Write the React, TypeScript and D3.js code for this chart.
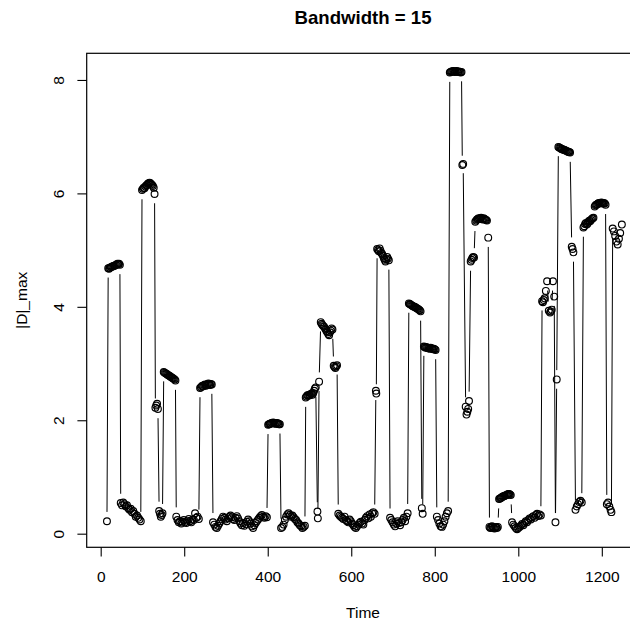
import * as d3 from 'd3'
import { useEffect, useRef } from 'react'

const time = [
  15,
  18, 20, 22, 24, 26, 28, 30, 32, 34, 36, 38, 40, 42, 44, 46,
  48, 51, 54, 57, 60, 63, 66, 69, 72, 75, 78, 81, 84, 87, 90, 93, 96,
  99, 101, 103, 105, 107, 109, 111, 113, 115, 117, 119, 121, 123, 125, 127, 129,
  131, 133, 135, 137,
  140, 142, 144, 146, 148,
  151, 153, 155, 157, 159, 161, 163, 165, 167, 169, 171, 173, 175, 177, 179,
  181, 184, 187, 190, 193, 196, 199, 202, 205, 208, 211, 214, 217, 220, 223, 226, 229, 232, 235,
  238, 240, 242, 244, 246, 248, 250, 252, 254, 256, 258, 260, 262, 264, 266,
  269, 272, 275, 278, 281, 284, 287, 290, 293, 296,
  299, 302, 305, 308, 311, 314, 317, 320, 323, 326,
  329, 332, 335, 338, 341, 344, 347, 350, 353, 356,
  359, 362, 365, 368, 371, 374, 377, 380, 383, 386,
  389, 392, 395, 398,
  401, 403, 405, 407, 409, 411, 413, 415, 417, 419, 421, 423, 425, 427, 429,
  432, 435, 438, 441, 444, 447, 450, 453, 456, 459, 462, 465, 468, 471, 474, 477, 480, 483, 486, 489,
  491, 493, 495, 497, 499, 501, 503, 505, 507, 509, 511, 513, 515,
  519, 520, 523,
  527, 529, 531, 533, 535, 537, 539, 541, 543, 545, 547, 549, 551, 553, 555,
  558, 560, 562, 564, 566,
  569, 572, 575, 578, 581, 584, 587, 590, 593, 596,
  599, 602, 605, 608, 611, 614, 617, 620, 623, 626,
  629, 632, 635, 638, 641, 644, 647, 650, 653, 656,
  659, 660,
  662, 664, 666, 668, 670, 672, 674, 676, 678, 680, 682, 684, 686, 688, 690,
  693, 696, 699, 702, 705, 708, 711, 714, 717, 720, 723, 726, 729, 732, 735,
  738, 740, 742, 744, 746, 748, 750, 752, 754, 756, 758, 760, 762, 764, 766,
  769, 771,
  774, 776, 778, 780, 782, 784, 786, 788, 790, 792, 794, 796, 798, 800, 802,
  805, 808, 811, 814, 817, 820, 823, 826, 829, 832,
  836, 838, 840, 842, 844, 846, 848, 850, 852, 854, 856, 858, 860, 862, 864,
  866, 868,
  874, 876, 878, 880, 882,
  886, 888, 890, 892, 894,
  897, 899, 901, 903, 905, 907, 909, 911, 913, 915, 917, 919, 921, 923, 925,
  928,
  931, 933, 935, 937, 939, 941, 943, 945, 947, 949, 951,
  954, 956, 958, 960, 962, 964, 966, 968, 970, 972, 974, 976, 978, 980, 982,
  985, 988, 991, 994, 997, 1000, 1003, 1006, 1009, 1012,
  1015, 1018, 1021, 1024, 1027, 1030, 1033, 1036, 1039, 1042,
  1045, 1048, 1051, 1054,
  1057, 1059, 1061, 1063, 1066, 1069, 1073, 1076, 1078, 1080, 1083, 1086,
  1089, 1092,
  1096, 1098, 1100, 1102, 1104, 1106, 1108, 1110, 1112, 1114, 1116, 1118, 1120, 1122, 1124,
  1128, 1130, 1132,
  1137, 1140, 1143, 1146, 1149, 1152,
  1156, 1158, 1160, 1162, 1164, 1166, 1168, 1170, 1172, 1174, 1176, 1178, 1180,
  1183, 1185, 1187, 1189, 1191, 1193, 1195, 1197, 1199, 1201, 1203, 1205, 1207, 1209,
  1212, 1215, 1218, 1221, 1223,
  1226, 1229, 1232, 1235, 1238, 1241, 1244, 1248
]

const dmax = [
  0.22,
  4.68, 4.67, 4.69, 4.70, 4.70, 4.71, 4.72, 4.72, 4.73, 4.74, 4.74, 4.76, 4.75, 4.76, 4.74,
  0.54, 0.50, 0.55, 0.52, 0.48, 0.50, 0.45, 0.42, 0.44, 0.38, 0.40, 0.35, 0.30, 0.32, 0.28, 0.25, 0.22,
  6.06, 6.08, 6.10, 6.09, 6.12, 6.14, 6.15, 6.17, 6.18, 6.19, 6.18, 6.16, 6.15, 6.13, 6.10, 5.99,
  2.22, 2.26, 2.29, 2.20,
  0.40, 0.35, 0.30, 0.33, 0.36,
  2.85, 2.84, 2.83, 2.82, 2.81, 2.80, 2.79, 2.78, 2.77, 2.76, 2.75, 2.74, 2.73, 2.72, 2.70,
  0.30, 0.24, 0.20, 0.22, 0.18, 0.21, 0.24, 0.20, 0.19, 0.23, 0.26, 0.22, 0.20, 0.25, 0.24, 0.36, 0.28, 0.30, 0.26,
  2.57, 2.58, 2.60, 2.61, 2.60, 2.62, 2.63, 2.61, 2.62, 2.64, 2.65, 2.63, 2.62, 2.64, 2.63,
  0.20, 0.16, 0.12, 0.10, 0.14, 0.18, 0.22, 0.26, 0.30, 0.28,
  0.25, 0.22, 0.27, 0.30, 0.32, 0.29, 0.26, 0.24, 0.28, 0.31,
  0.27, 0.22, 0.18, 0.15, 0.19, 0.14, 0.17, 0.21, 0.25, 0.22,
  0.18, 0.13, 0.10, 0.15, 0.19, 0.22, 0.25, 0.28, 0.31, 0.33,
  0.30, 0.28, 0.31, 0.29,
  1.92, 1.93, 1.94, 1.94, 1.95, 1.95, 1.96, 1.95, 1.94, 1.95, 1.94, 1.95, 1.94, 1.93, 1.93,
  0.10, 0.12, 0.16, 0.24, 0.30, 0.34, 0.36, 0.33, 0.30, 0.32, 0.29, 0.26, 0.24, 0.20, 0.18, 0.15, 0.13, 0.10, 0.12, 0.14,
  2.40, 2.42, 2.44, 2.43, 2.45, 2.44, 2.46, 2.47, 2.45, 2.48, 2.52, 2.56, 2.58,
  0.39, 0.27, 2.68,
  3.73, 3.70, 3.68, 3.66, 3.65, 3.62, 3.60, 3.57, 3.55, 3.52, 3.50, 3.55, 3.58, 3.62, 3.60,
  2.96, 2.94, 2.92, 2.95, 2.97,
  0.35, 0.32, 0.30, 0.28, 0.26, 0.30, 0.24, 0.22, 0.20, 0.25,
  0.22, 0.18, 0.15, 0.12, 0.10, 0.13, 0.16, 0.19, 0.21, 0.18,
  0.16, 0.24, 0.28, 0.31, 0.27, 0.34, 0.30, 0.36, 0.38, 0.35,
  2.52, 2.47,
  5.02, 5.00, 4.98, 5.03, 4.99, 4.95, 4.93, 4.90, 4.86, 4.83, 4.80, 4.84, 4.88, 4.85, 4.82,
  0.28, 0.24, 0.20, 0.16, 0.13, 0.18, 0.22, 0.19, 0.15, 0.20, 0.24, 0.28, 0.22, 0.30, 0.36,
  4.06, 4.05, 4.04, 4.03, 4.02, 4.01, 4.00, 4.00, 3.99, 3.98, 3.97, 3.96, 3.95, 3.94, 3.92,
  0.45, 0.35,
  3.30, 3.29, 3.28, 3.29, 3.28, 3.27, 3.27, 3.26, 3.28, 3.27, 3.26, 3.25, 3.26, 3.25, 3.24,
  0.30, 0.24, 0.18, 0.13, 0.12, 0.16, 0.22, 0.30, 0.36, 0.40,
  8.13, 8.14, 8.15, 8.15, 8.16, 8.15, 8.14, 8.15, 8.16, 8.15, 8.14, 8.15, 8.14, 8.13, 8.14,
  6.50, 6.52,
  2.24, 2.10, 2.15, 2.20, 2.34,
  4.80, 4.83, 4.86, 4.88, 4.87,
  5.50, 5.52, 5.54, 5.55, 5.56, 5.55, 5.56, 5.57, 5.55, 5.54, 5.56, 5.55, 5.54, 5.53, 5.52,
  5.22,
  0.12, 0.10, 0.11, 0.13, 0.12, 0.10, 0.09, 0.11, 0.12, 0.10, 0.12,
  0.61, 0.62, 0.63, 0.64, 0.65, 0.66, 0.66, 0.67, 0.68, 0.68, 0.69, 0.70, 0.70, 0.69, 0.68,
  0.20, 0.16, 0.13, 0.10, 0.08, 0.10, 0.12, 0.14, 0.17, 0.15,
  0.19, 0.22, 0.20, 0.24, 0.27, 0.25, 0.29, 0.31, 0.28, 0.33,
  0.35, 0.31, 0.34, 0.32,
  4.10, 4.08, 4.12, 4.15, 4.28, 4.45, 3.93, 3.90, 3.92, 3.95, 4.45, 4.18,
  0.20, 2.72,
  6.82, 6.81, 6.80, 6.79, 6.78, 6.78, 6.77, 6.77, 6.76, 6.75, 6.75, 6.74, 6.73, 6.73, 6.72,
  5.06, 5.02, 4.96,
  0.42, 0.48, 0.52, 0.56, 0.58, 0.55,
  5.40, 5.42, 5.46, 5.48, 5.45, 5.47, 5.50, 5.52, 5.51, 5.53, 5.55, 5.56, 5.57,
  5.77, 5.79, 5.80, 5.81, 5.82, 5.83, 5.82, 5.83, 5.84, 5.83, 5.82, 5.83, 5.82, 5.80,
  0.52, 0.55, 0.48, 0.42, 0.38,
  5.38, 5.33, 5.25, 5.15, 5.10, 5.20, 5.30, 5.45
]

const xTicks = [0, 200, 400, 600, 800, 1000, 1200]
const yTicks = [0, 2, 4, 6, 8]

const W = 630
const H = 628
const box = { left: 86.7, right: 639.4, top: 53.3, bottom: 547.3 }
const font = '"Liberation Sans", Arial, Helvetica, sans-serif'
const fs = 15.5 // one text line is 1.2 * fs

export default function App() {
  const svgRef = useRef(null)

  useEffect(() => {
    const svg = d3.select(svgRef.current)
    svg.selectAll('*').remove()

    const x = d3.scaleLinear().domain([-33.5, 1290]).range([box.left, box.right])
    const y = d3.scaleLinear().domain([-0.24, 8.47]).range([box.bottom, box.top])

    const n = Math.min(time.length, dmax.length)
    const pts = time.slice(0, n).map((t, i) => [x(t), y(dmax[i])])

    // type = "b": segments with a gap around each point, short ones dropped
    const gap = 9.3
    const path = d3.path()
    for (let i = 1; i < pts.length; i++) {
      const [x0, y0] = pts[i - 1]
      const [x1, y1] = pts[i]
      const len = Math.hypot(x1 - x0, y1 - y0)
      if (len <= 2 * gap) continue
      const f = gap / len
      path.moveTo(x0 + f * (x1 - x0), y0 + f * (y1 - y0))
      path.lineTo(x1 - f * (x1 - x0), y1 - f * (y1 - y0))
    }
    svg.append('path')
       .attr('d', path.toString())
       .attr('fill', 'none')
       .attr('stroke', '#000')
       .attr('stroke-width', 1)

    svg.append('g')
       .selectAll('circle')
       .data(pts)
       .join('circle')
       .attr('cx', d => d[0])
       .attr('cy', d => d[1])
       .attr('r', 3.4)
       .attr('fill', 'none')
       .attr('stroke', '#000')
       .attr('stroke-width', 1.15)

    svg.append('rect')
       .attr('x', box.left)
       .attr('y', box.top)
       .attr('width', box.right - box.left)
       .attr('height', box.bottom - box.top)
       .attr('fill', 'none')
       .attr('stroke', '#000')
       .attr('stroke-width', 1.2)

    const xAxis = d3.axisBottom(x).tickValues(xTicks).tickSize(9.3).tickPadding(14.4).tickFormat(d3.format('d'))
    const gx = svg.append('g')
       .attr('transform', `translate(0, ${box.bottom})`)
       .call(xAxis)
    gx.select('.domain').remove()
    gx.selectAll('line').attr('stroke', '#000').attr('stroke-width', 1.1)
    gx.selectAll('text')
      .attr('font-family', font)
      .attr('font-size', fs)
      .attr('fill', '#000')

    const yAxis = d3.axisLeft(y).tickValues(yTicks).tickSize(9.3).tickFormat(d3.format('d'))
    const gy = svg.append('g')
       .attr('transform', `translate(${box.left}, 0)`)
       .call(yAxis)
    gy.select('.domain').remove()
    gy.selectAll('line').attr('stroke', '#000').attr('stroke-width', 1.1)
    gy.selectAll('text')
      .attr('x', null)
      .attr('dy', null)
      .attr('transform', 'translate(-22.7, 0) rotate(-90)')
      .attr('text-anchor', 'middle')
      .attr('font-family', font)
      .attr('font-size', fs)
      .attr('fill', '#000')

    const cx = (box.left + box.right) / 2
    svg.append('text')
       .attr('x', cx)
       .attr('y', 24)
       .attr('text-anchor', 'middle')
       .attr('font-family', font)
       .attr('font-weight', 'bold')
       .attr('font-size', fs * 1.2)
       .text('Bandwidth = 15')

    svg.append('text')
       .attr('x', cx)
       .attr('y', 618)
       .attr('text-anchor', 'middle')
       .attr('font-family', font)
       .attr('font-size', fs)
       .text('Time')

    svg.append('text')
       .attr('transform', `translate(27.2, ${(box.top + box.bottom) / 2}) rotate(-90)`)
       .attr('text-anchor', 'middle')
       .attr('font-family', font)
       .attr('font-size', fs)
       .text('|D|_max')
  }, [])

  return (
    <svg ref={svgRef} width={W} height={H}
         style={{ position: 'absolute', left: 0, top: 0, background: '#fff' }} />
  )
}
